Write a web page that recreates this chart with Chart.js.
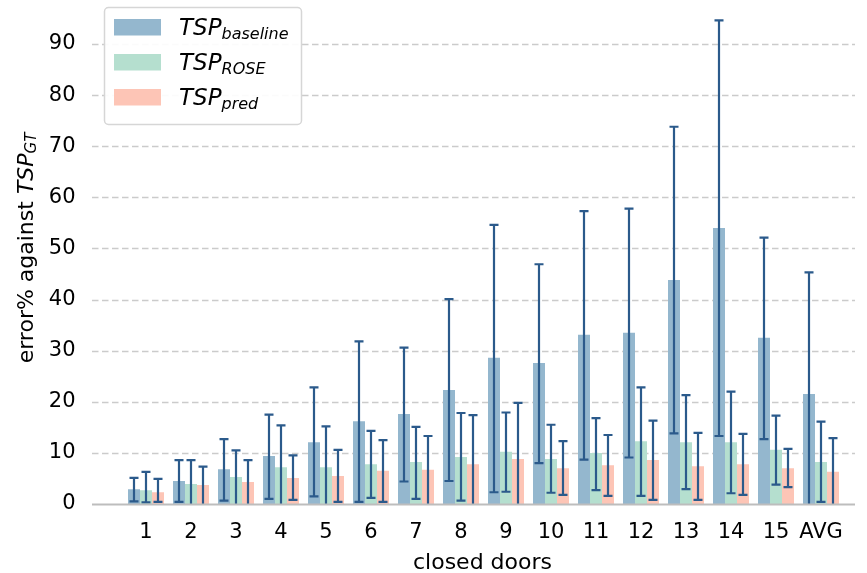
<!DOCTYPE html>
<html lang="en">
<head>
    <meta charset="UTF-8">
    <title>TSP error vs closed doors</title>
    <script src="https://cdn.jsdelivr.net/npm/chart.js"></script>
    <style>
        body { margin: 0; background: #fff; }
        #wrap { width: 867px; height: 573px; }
    </style>
</head>
<body>
    <div id="wrap"><canvas id="chart" width="867" height="573"></canvas></div>

    <script>
        // data
        const categories = ['1', '2', '3', '4', '5', '6', '7', '8', '9', '10', '11', '12', '13', '14', '15', 'AVG'];

        const baseline = [2.9, 4.5, 6.8, 9.4, 12.1, 16.2, 17.6, 22.3, 28.6, 27.6, 33.1, 33.5, 43.8, 54.0, 32.5, 21.5];
        const baselineLow = [0.5, 0.4, 0.65, 1.0, 1.5, 0.4, 4.4, 4.5, 2.3, 8.0, 8.7, 9.1, 13.8, 13.3, 12.7, -3];
        const baselineHigh = [5.1, 8.6, 12.7, 17.5, 22.8, 31.8, 30.6, 40.1, 54.6, 46.9, 57.3, 57.8, 73.8, 94.6, 52.1, 45.3];

        const rose = [2.7, 3.9, 5.3, 7.2, 7.2, 7.8, 8.2, 9.2, 10.2, 8.8, 10.0, 12.3, 12.1, 12.1, 10.6, 8.2];
        const roseLow = [0.3, -1, -1, -1, -1, 1.2, 1.0, 0.65, 2.4, 2.2, 2.7, 1.6, 2.9, 2.1, 3.8, 0.4];
        const roseHigh = [6.3, 8.6, 10.5, 15.4, 15.2, 14.3, 15.1, 17.8, 17.9, 15.5, 16.8, 22.8, 21.3, 22.0, 17.3, 16.1];

        const pred = [2.3, 3.7, 4.3, 5.1, 5.5, 6.5, 6.7, 7.8, 8.8, 7.0, 7.6, 8.6, 7.4, 7.8, 7.0, 6.3];
        const predLow = [0.4, -1, -1, 0.8, 0.4, 0.4, -1, -1, -1, 1.8, 1.6, 0.8, 0.8, 1.8, 3.3, -2];
        const predHigh = [4.9, 7.3, 8.6, 9.5, 10.6, 12.5, 13.3, 17.4, 19.8, 12.3, 13.5, 16.3, 13.9, 13.7, 10.8, 12.9];

        const yTicks = [0, 10, 20, 30, 40, 50, 60, 70, 80, 90];

        const colors = ['rgb(148,183,206)', 'rgb(181,223,207)', 'rgb(253,197,182)'];
        const errColor = '#2b5a8b';
        const font = "'DejaVu Sans', sans-serif";

        const series = [
            { sub: 'baseline', values: baseline, low: baselineLow, high: baselineHigh },
            { sub: 'ROSE', values: rose, low: roseLow, high: roseHigh },
            { sub: 'pred', values: pred, low: predLow, high: predHigh }
        ];

        // axis frame is wider than the bar area (matplotlib margins)
        const frameLeft = 92, frameRight = 855;

        const decorations = {
            id: 'decorations',
            beforeDatasetsDraw(chart) {
                const ctx = chart.ctx;
                const y = chart.scales.y;
                ctx.save();
                ctx.strokeStyle = 'rgba(190,190,190,0.8)';
                ctx.lineWidth = 1.6;
                ctx.setLineDash([6.5, 3.5]);
                yTicks.forEach(v => {
                    if (v === 0) return;
                    const py = Math.round(y.getPixelForValue(v)) + 0.5;
                    ctx.beginPath();
                    ctx.moveTo(frameLeft, py);
                    ctx.lineTo(frameRight, py);
                    ctx.stroke();
                });
                ctx.restore();
            },
            afterDatasetsDraw(chart) {
                const ctx = chart.ctx;
                const y = chart.scales.y;
                const area = chart.chartArea;
                ctx.save();
                ctx.beginPath();
                ctx.rect(0, area.top, chart.width, area.bottom - area.top);
                ctx.clip();
                ctx.strokeStyle = errColor;
                ctx.lineWidth = 2.2;
                series.forEach((s, di) => {
                    const meta = chart.getDatasetMeta(di);
                    meta.data.forEach((bar, i) => {
                        const x = bar.x;
                        const y1 = y.getPixelForValue(s.low[i]);
                        const y2 = y.getPixelForValue(s.high[i]);
                        ctx.beginPath();
                        ctx.moveTo(x, y1);
                        ctx.lineTo(x, y2);
                        ctx.moveTo(x - 4.5, y2);
                        ctx.lineTo(x + 4.5, y2);
                        ctx.moveTo(x - 4.5, y1);
                        ctx.lineTo(x + 4.5, y1);
                        ctx.stroke();
                    });
                });
                ctx.restore();

                // bottom spine
                ctx.save();
                ctx.strokeStyle = '#bdbdbd';
                ctx.lineWidth = 2;
                ctx.beginPath();
                ctx.moveTo(frameLeft, area.bottom + 0.5);
                ctx.lineTo(frameRight, area.bottom + 0.5);
                ctx.stroke();
                ctx.restore();
            },
            afterDraw(chart) {
                const ctx = chart.ctx;
                const area = chart.chartArea;
                ctx.save();

                // legend box
                const bx = 104.5, by = 7.5, bw = 197, bh = 117;
                ctx.fillStyle = 'rgba(255,255,255,0.92)';
                ctx.strokeStyle = '#d6d6d6';
                ctx.lineWidth = 1.5;
                ctx.beginPath();
                ctx.roundRect(bx, by, bw, bh, 4);
                ctx.fill();
                ctx.stroke();

                ctx.textBaseline = 'alphabetic';
                ctx.textAlign = 'left';
                series.forEach((s, i) => {
                    const cy = 27 + i * 35;
                    ctx.fillStyle = colors[i];
                    ctx.fillRect(114, cy - 8, 47, 16.5);
                    ctx.fillStyle = '#000';
                    ctx.font = 'italic 23px ' + font;
                    ctx.fillText('TSP', 179, cy + 8);
                    const w = ctx.measureText('TSP').width;
                    ctx.font = 'italic 16px ' + font;
                    ctx.fillText(s.sub, 179 + w, cy + 12);
                });

                // y axis title
                ctx.translate(27, (area.top + area.bottom) / 2 - 4);
                ctx.rotate(-Math.PI / 2);
                ctx.fillStyle = '#000';
                const p1 = 'error% against ';
                ctx.font = '22px ' + font;
                const w1 = ctx.measureText(p1).width;
                ctx.font = 'italic 22px ' + font;
                const w2 = ctx.measureText('TSP').width;
                ctx.font = 'italic 15px ' + font;
                const w3 = ctx.measureText('GT').width;
                let x0 = -(w1 + w2 + w3) / 2;
                ctx.textBaseline = 'middle';
                ctx.font = '22px ' + font;
                ctx.fillText(p1, x0, 0);
                ctx.font = 'italic 22px ' + font;
                ctx.fillText('TSP', x0 + w1, 0);
                ctx.font = 'italic 15px ' + font;
                ctx.fillText('GT', x0 + w1 + w2, 5);
                ctx.restore();

                // x axis title
                ctx.save();
                ctx.fillStyle = '#000';
                ctx.font = '22px ' + font;
                ctx.textAlign = 'center';
                ctx.textBaseline = 'alphabetic';
                ctx.fillText('closed doors', 482.5, 569);
                ctx.restore();
            }
        };

        new Chart(document.getElementById('chart'), {
            type: 'bar',
            data: {
                labels: categories,
                datasets: series.map((s, i) => ({
                    label: 'TSP ' + s.sub,
                    data: s.values,
                    backgroundColor: colors[i],
                    borderWidth: 0,
                    categoryPercentage: 0.8,
                    barPercentage: 1.0
                }))
            },
            options: {
                responsive: false,
                animation: false,
                layout: { padding: { top: 0, right: 23.5, bottom: 0, left: 0 } },
                plugins: {
                    legend: { display: false },
                    tooltip: { enabled: false }
                },
                scales: {
                    x: {
                        grid: { display: false, drawTicks: false },
                        border: { display: false },
                        ticks: {
                            color: '#000',
                            font: { family: font, size: 21 },
                            padding: 16,
                            maxRotation: 0,
                            autoSkip: false
                        },
                        afterFit(scale) { scale.height = 69; }
                    },
                    y: {
                        min: 0,
                        max: 98.6,
                        grid: { display: false, drawTicks: false },
                        border: { display: false },
                        ticks: {
                            stepSize: 10,
                            color: '#000',
                            font: { family: font, size: 21 },
                            padding: 48
                        },
                        afterBuildTicks(scale) {
                            scale.ticks = yTicks.map(v => ({ value: v }));
                        },
                        afterFit(scale) {
                            scale.width = 123.5;
                            scale.paddingTop = 0;
                            scale.paddingBottom = 0;
                        }
                    }
                }
            },
            plugins: [decorations]
        });
    </script>
</body>
</html>
